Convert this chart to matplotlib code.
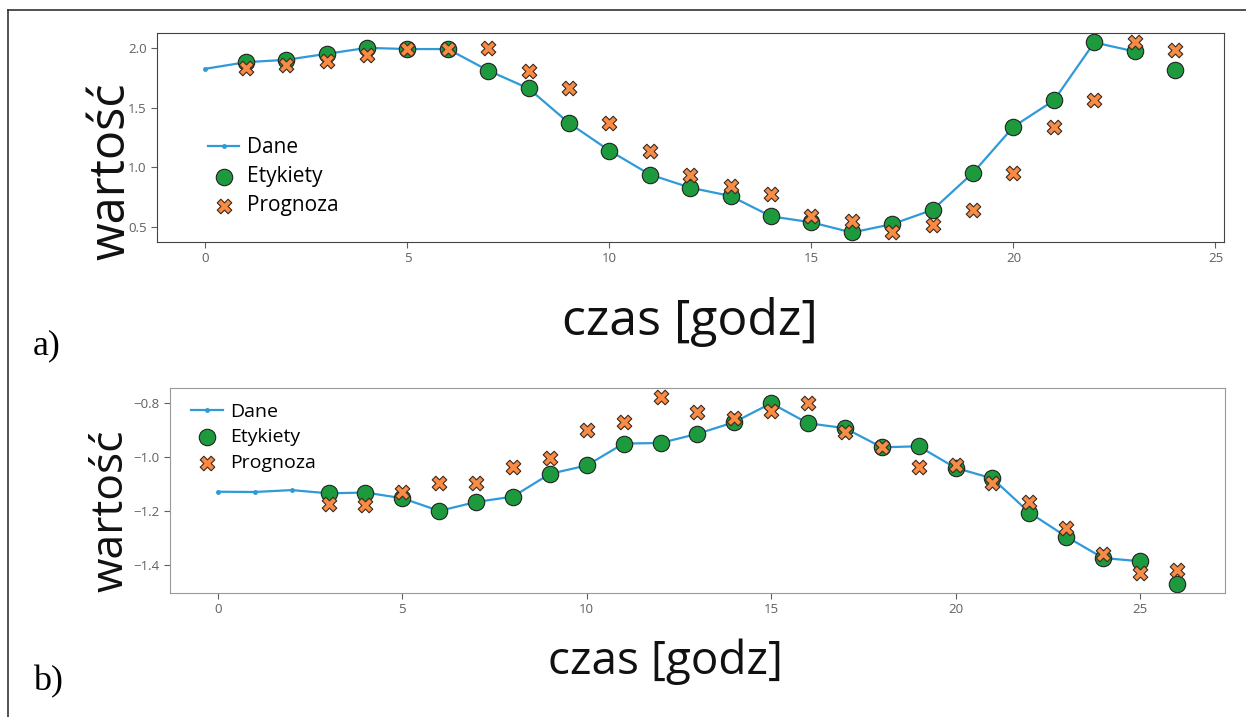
import matplotlib
matplotlib.use("Agg")
import matplotlib.pyplot as plt
from matplotlib.lines import Line2D
import numpy as np

plt.rcParams['font.family'] = ['Open Sans', 'DejaVu Sans']

# panel a) - 24 h window
A_DANE = [1.825, 1.88, 1.90, 1.95, 2.00, 1.99, 1.99, 1.81, 1.66, 1.37, 1.14, 0.94,
          0.83, 0.76, 0.59, 0.54, 0.455, 0.525, 0.645, 0.955, 1.34, 1.56, 2.045, 1.97]
A_ETYK = [1.88, 1.90, 1.95, 2.00, 1.99, 1.99, 1.81, 1.66, 1.37, 1.14, 0.94, 0.83,
          0.76, 0.59, 0.54, 0.455, 0.525, 0.645, 0.955, 1.34, 1.56, 2.045, 1.97, 1.815]
A_PROG = [1.83, 1.86, 1.89, 1.94, 1.99, 1.99, 2.00, 1.81, 1.66, 1.37, 1.14, 0.94,
          0.84, 0.775, 0.59, 0.55, 0.455, 0.52, 0.645, 0.955, 1.34, 1.56, 2.045, 1.98]

# panel b) - 26 h window
B_DANE = [-1.128, -1.129, -1.122, -1.134, -1.131, -1.152, -1.199, -1.166, -1.146,
          -1.062, -1.031, -0.950, -0.948, -0.914, -0.871, -0.801, -0.875, -0.893,
          -0.964, -0.960, -1.040, -1.079, -1.205, -1.294, -1.373, -1.385]
B_ETYK = [-1.134, -1.131, -1.152, -1.199, -1.166, -1.146, -1.062, -1.031, -0.950,
          -0.948, -0.914, -0.871, -0.801, -0.875, -0.893, -0.964, -0.960, -1.040,
          -1.079, -1.205, -1.294, -1.373, -1.385, -1.468]
B_PROG = [-1.174, -1.178, -1.129, -1.095, -1.097, -1.037, -1.003, -0.899, -0.869,
          -0.779, -0.832, -0.856, -0.828, -0.799, -0.908, -0.964, -1.036, -1.030,
          -1.097, -1.165, -1.262, -1.360, -1.429, -1.417]

LINE_C = '#2e9ad8'
GREEN = '#1d9a3e'
ORANGE = '#f98c45'


def draw(ax, dane, etyk, prog, start):
    x = np.arange(len(dane))
    xl = np.arange(start, start + len(etyk))
    ax.plot(x, dane, color=LINE_C, marker='.', markersize=5, lw=1.6, label='Dane', zorder=1)
    ax.scatter(xl, etyk, s=140, c=GREEN, edgecolors='#222222', linewidths=0.8,
               label='Etykiety', zorder=2)
    ax.scatter(xl, prog, s=110, c=ORANGE, marker='X', edgecolors='#3a2a20',
               linewidths=0.8, label='Prognoza', zorder=3)
    ax.set_xticks([0, 5, 10, 15, 20, 25])
    ax.tick_params(labelsize=9.5, colors='#606060', length=4)


fig = plt.figure(figsize=(12.46, 7.17), dpi=100)

axa = fig.add_axes([0.126, 0.6625, 0.856, 0.2915])
draw(axa, A_DANE, A_ETYK, A_PROG, 1)
axa.set_yticks([0.5, 1.0, 1.5, 2.0])
for s in axa.spines.values():
    s.set_color('#444444')
axa.legend(loc='upper left', bbox_to_anchor=(0.04, 0.54), borderaxespad=0, frameon=False,
           fontsize=15, handlelength=1.5, handletextpad=0.35, labelspacing=0.38)

axb = fig.add_axes([0.1364, 0.1729, 0.8466, 0.286])
draw(axb, B_DANE, B_ETYK, B_PROG, 3)
axb.set_yticks([-0.8, -1.0, -1.2, -1.4])
for s in axb.spines.values():
    s.set_color('#999999')
axb.legend(loc='upper left', bbox_to_anchor=(0.013, 0.965), borderaxespad=0, frameon=False,
           fontsize=14, handlelength=1.6, handletextpad=0.4, labelspacing=0.38)

# big pasted-on axis labels
fig.text(112 / 1246, 1 - 171 / 717, 'wartość', rotation=90, fontsize=35,
         ha='center', va='center', color='#111111')
fig.text(690 / 1246, 1 - 322 / 717, 'czas [godz]', fontsize=36,
         ha='center', va='center', color='#111111')
fig.text(111 / 1246, 1 - 511 / 717, 'wartość', rotation=90, fontsize=32,
         ha='center', va='center', color='#111111')
fig.text(665 / 1246, 1 - 662 / 717, 'czas [godz]', fontsize=33,
         ha='center', va='center', color='#111111')

fig.text(33 / 1246, 1 - 346 / 717, 'a)', family='Liberation Serif', fontsize=26,
         ha='left', va='center')
fig.text(33 / 1246, 1 - 682 / 717, 'b)', family='Liberation Serif', fontsize=26,
         ha='left', va='center')

# outer frame (top and left edges visible)
fig.add_artist(Line2D([8 / 1246, 8 / 1246], [0, 1 - 10 / 717], color='#333333', lw=1.2))
fig.add_artist(Line2D([8 / 1246, 1], [1 - 10 / 717, 1 - 10 / 717], color='#333333', lw=1.2))

fig.savefig('out.png', dpi=100)
